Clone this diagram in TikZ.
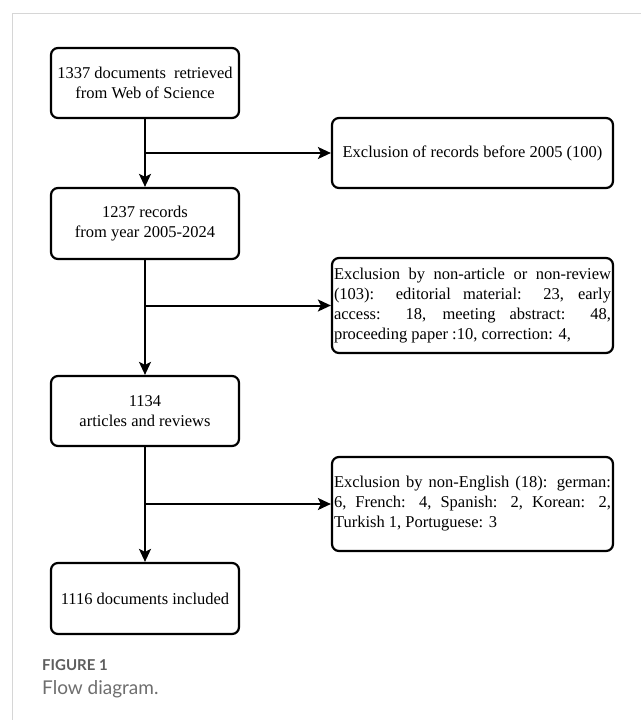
\documentclass[tikz,border=0pt]{standalone}
\usepackage{fontspec}
\setmainfont{Liberation Serif}
\newfontfamily\capfont{Lato}
\usetikzlibrary{arrows.meta}
\definecolor{framegray}{HTML}{D6D6D6}
\definecolor{capgray}{HTML}{5E5E5E}
\definecolor{capgrayl}{HTML}{6E6E6E}
\begin{document}
\begin{tikzpicture}[x=1pt,y=-1pt,
  mainbox/.style={draw, line width=2.2pt, rounded corners=7pt, minimum width=188pt,
    minimum height=70pt, align=center, inner sep=2pt,
    font=\fontsize{16.5}{20}\selectfont},
  exbox/.style={draw, line width=2.2pt, rounded corners=7pt, minimum width=281pt,
    inner xsep=2pt, inner ysep=0pt, font=\fontsize{16.5}{20}\selectfont},
  exjust/.style={exbox, text width=277pt, align=justify},
  arr/.style={line width=2pt, -{Stealth[length=13pt,width=12pt,inset=3pt]}}
]
\useasboundingbox (0,0) rectangle (641,720);
\draw[framegray, line width=1pt] (12,720) -- (12,13) -- (641,13);

\node[mainbox] (b1) at (145,83) {1337 documents\hspace{4pt} retrieved\\from Web of Science};
\node[mainbox, minimum height=71pt] (b2) at (145,223.5) {1237 records\\from year 2005-2024};
\node[mainbox] (b3) at (145,411) {1134\\articles and reviews};
\node[mainbox, minimum height=71pt] (b4) at (145,598.5) {1116 documents included};

\node[exbox, minimum height=70pt] (e1) at (472.5,153) {Exclusion of records before 2005 (100)};
\node[exjust, minimum height=95pt] (e2) at (472.5,305.5) {Exclusion by non-article or non-review\linebreak (103): editorial material: 23, early\linebreak access: 18, meeting abstract: 48,\linebreak proceeding paper :10, correction: 4,};
\node[exjust, minimum height=94pt] (e3) at (472.5,504) {Exclusion by non-English (18): german:\linebreak 6, French: 4, Spanish: 2, Korean: 2,\linebreak Turkish 1, Portuguese: 3};

\draw[arr] (b1) -- (b2);
\draw[arr] (b2) -- (b3);
\draw[arr] (b3) -- (b4);
\draw[arr] (b1.south |- e1.west) -- (e1.west);
\draw[arr] (b2.south |- e2.west) -- (e2.west);
\draw[arr] (b3.south |- e3.west) -- (e3.west);

\node[anchor=base west, inner sep=0pt, text=capgray, font=\capfont\bfseries\fontsize{15}{18}\selectfont] (cap1) at (42,670) {FIGURE 1};
\node[anchor=base west, inner sep=0pt, text=capgrayl, font=\capfont\fontsize{19}{23}\selectfont] (cap2) at (42,694) {Flow diagram.};
\end{tikzpicture}
\end{document}
